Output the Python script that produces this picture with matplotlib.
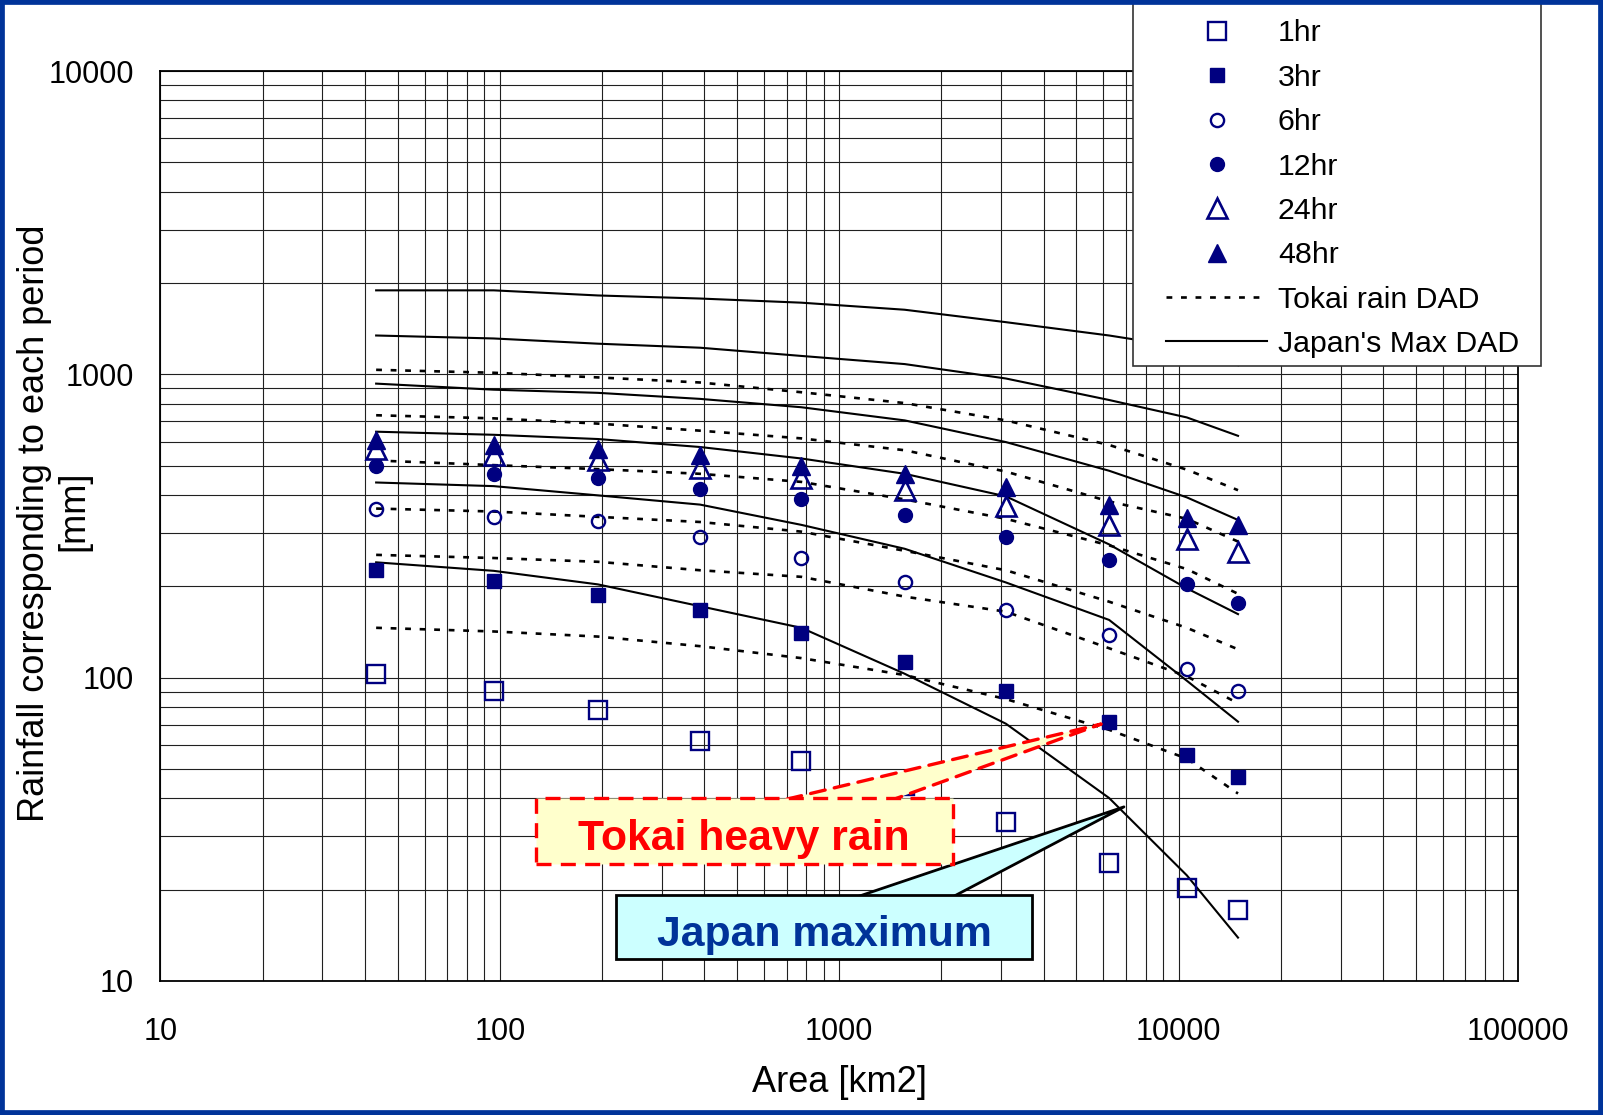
import matplotlib
matplotlib.use("Agg")
import matplotlib.pyplot as plt
from matplotlib.lines import Line2D
from matplotlib.legend_handler import HandlerLine2D
from matplotlib.patches import Rectangle
from matplotlib.ticker import LogLocator, NullFormatter, FuncFormatter

plt.rcParams['font.family'] = ['Liberation Sans', 'DejaVu Sans']

# Area [km2] of each DAD point
area = [43.2, 95.9, 194.5, 389, 773, 1559, 3097, 6240, 10570, 14960]

# Observed rainfall of the Tokai heavy rain [mm]
obs_1hr = [103, 90.4, 78.0, 61.7, 53.3, 43.8, 33.4, 24.5, 20.3, 17.1]
obs_3hr = [226, 209, 188, 167, 140, 113, 90.4, 71.6, 55.8, 47.0]
obs_6hr = [361, 339, 329, 292, 248, 206, 167, 138, 107, 90.4]
obs_12hr = [500, 470, 456, 418, 387, 344, 292, 245, 203, 176]
obs_24hr = [567, 541, 520, 493, 456, 415, 369, 319, 286, 260]
obs_48hr = [608, 585, 567, 541, 500, 470, 425, 372, 336, 319]

# Tokai rain DAD curves (dotted)
tokai_1hr = [146, 142, 136.6, 127, 116, 102, 85, 67.3, 54.1, 41.5]
tokai_3hr = [254, 248, 241, 226, 215, 185, 165, 125, 101, 82.3]
tokai_6hr = [361, 353, 339, 326, 303, 262, 226, 178, 146, 124]
tokai_12hr = [520, 502, 487, 470, 442, 387, 334, 273, 228, 189]
tokai_24hr = [733, 716, 688, 652, 615, 562, 478, 381, 334, 281]
tokai_48hr = [1035, 1012, 977, 940, 873, 804, 705, 585, 485, 415]

# Japan's maximum DAD curves (solid)
japan_1hr = [240, 225, 203, 172, 146, 103, 70.5, 40.1, 22.3, 13.9]
japan_3hr = [440, 428, 399, 372, 319, 266, 206, 155, 97.7, 71.6]
japan_6hr = [647, 632, 612, 576, 528, 470, 396, 275, 197, 162]
japan_12hr = [932, 890, 869, 830, 779, 705, 598, 481, 393, 331]
japan_24hr = [1343, 1313, 1262, 1224, 1150, 1081, 969, 823, 721, 627]
japan_48hr = [1892, 1892, 1820, 1778, 1723, 1633, 1486, 1343, 1224, 1072]

NAVY = '#000080'
W, H = 1603, 1115

fig = plt.figure(figsize=(W / 100, H / 100), dpi=100)
ax = fig.add_axes([0.1001, 0.1202, 0.8469, 0.8161])

# DAD curves
dot_style = dict(color='black', lw=1.9, ls=(0, (2.2, 3.3)), zorder=3)
for series in [tokai_1hr, tokai_3hr, tokai_6hr, tokai_12hr, tokai_24hr, tokai_48hr]:
    ax.plot(area, series, **dot_style)
for series in [japan_1hr, japan_3hr, japan_6hr, japan_12hr, japan_24hr, japan_48hr]:
    ax.plot(area, series, color='black', lw=1.5, zorder=3)

# observed points
h1, = ax.plot(area, obs_1hr, ls='none', marker='s', ms=13.5, mfc='none', mec=NAVY, mew=1.7, zorder=4)
h3, = ax.plot(area, obs_3hr, ls='none', marker='s', ms=10.5, mfc=NAVY, mec=NAVY, mew=1, zorder=4)
h6, = ax.plot(area, obs_6hr, ls='none', marker='o', ms=9.5, mfc='none', mec=NAVY, mew=1.7, zorder=4)
h12, = ax.plot(area, obs_12hr, ls='none', marker='o', ms=10, mfc=NAVY, mec=NAVY, mew=1, zorder=4)
h24, = ax.plot(area, obs_24hr, ls='none', marker='^', ms=15, mfc='none', mec=NAVY, mew=1.9, zorder=4)
h48, = ax.plot(area, obs_48hr, ls='none', marker='^', ms=12.5, mfc=NAVY, mec=NAVY, mew=1, zorder=5)

ax.set_xscale('log')
ax.set_yscale('log')
ax.set_xlim(10, 100000)
ax.set_ylim(10, 10000)
for axis in (ax.xaxis, ax.yaxis):
    axis.set_major_locator(LogLocator(base=10))
    axis.set_minor_locator(LogLocator(base=10, subs=range(2, 10)))
    axis.set_minor_formatter(NullFormatter())
    axis.set_major_formatter(FuncFormatter(lambda v, p: f"{int(round(v))}"))
ax.grid(which='both', color='#202020', lw=0.8, zorder=1)
ax.set_axisbelow(True)
ax.tick_params(which='both', length=0, labelsize=22)
ax.tick_params(axis='x', pad=26)
ax.tick_params(axis='y', pad=19)
for sp in ax.spines.values():
    sp.set_color('black')
    sp.set_linewidth(1.3)

ax.set_xlabel('Area [km2]', fontsize=26, labelpad=13)
ax.set_ylabel('Rainfall corresponding to each period', fontsize=26)
ax.yaxis.set_label_coords(-0.0925, 0.5028)
ax.yaxis.label.set_va('center')
ax.text(-0.0637, 0.517, '[mm]', transform=ax.transAxes, rotation=90,
        ha='center', va='center', fontsize=26)

# callouts
# Tokai heavy rain
ax.annotate('', xy=(area[7], obs_3hr[7]), xycoords='data',
            xytext=(0.430, 0.1647), textcoords='axes fraction',
            arrowprops=dict(arrowstyle='wedge,tail_width=3.05,shrink_factor=0.5',
                            mutation_scale=10, fc='#FFFFCC', ec='red', lw=2.4,
                            ls=(0, (4.5, 2.8)), shrinkA=0, shrinkB=6),
            zorder=6)
ax.add_patch(Rectangle((0.2764, 0.1288), 0.3073, 0.0719, transform=ax.transAxes,
                       fc='#FFFFCC', ec='red', lw=2.4, ls=(0, (4.5, 2.8)), zorder=7))
ax.text(0.430, 0.1557, 'Tokai heavy rain', transform=ax.transAxes, ha='center',
        va='center', fontsize=30.8, fontweight='bold', color='red', zorder=8)

# Japan maximum
ax.annotate('', xy=(6900, 37.5), xycoords='data',
            xytext=(0.5027, 0.0591), textcoords='axes fraction',
            arrowprops=dict(arrowstyle='wedge,tail_width=3.5,shrink_factor=0.5',
                            mutation_scale=10, fc='#CCFFFF', ec='black', lw=2,
                            shrinkA=0, shrinkB=0),
            zorder=6)
ax.add_patch(Rectangle((0.3359, 0.0242), 0.3064, 0.0698, transform=ax.transAxes,
                       fc='#CCFFFF', ec='black', lw=2, zorder=7))
ax.text(0.4891, 0.0501, 'Japan maximum', transform=ax.transAxes, ha='center',
        va='center', fontsize=30.8, fontweight='bold', color='#003399', zorder=8)

# legend: frame drawn separately so it can run under the top border
fig.patches.append(Rectangle((1133 / W, 1 - 365.5 / H), 408 / W, 365.5 / H + 0.02,
                             transform=fig.transFigure, fc='white', ec='#333333',
                             lw=1.2, zorder=2))
tokai_h = Line2D([], [], **dot_style)
japan_h = Line2D([], [], color='black', lw=1.5)
handles = [h1, h3, h6, h12, h24, h48, tokai_h, japan_h]
labels = ['1hr', '3hr', '6hr', '12hr', '24hr', '48hr', 'Tokai rain DAD', "Japan's Max DAD"]
leg = fig.legend(handles, labels, loc='upper left',
                 bbox_to_anchor=(1131 / W, 1 - 10.4 / H),
                 bbox_transform=fig.transFigure, borderaxespad=0,
                 fontsize=21.8, numpoints=1, handlelength=4.18,
                 handletextpad=0.37, labelspacing=0.54, borderpad=0.3,
                 frameon=False,
                 handler_map={Line2D: HandlerLine2D(xpad=0.87)})
leg.set_zorder(12)

# slide frame
fig.patches.append(Rectangle((0, 0), 1, 1, transform=fig.transFigure, fill=False,
                             ec='#003399', lw=7, zorder=20))

fig.savefig('out.png', dpi=100)
